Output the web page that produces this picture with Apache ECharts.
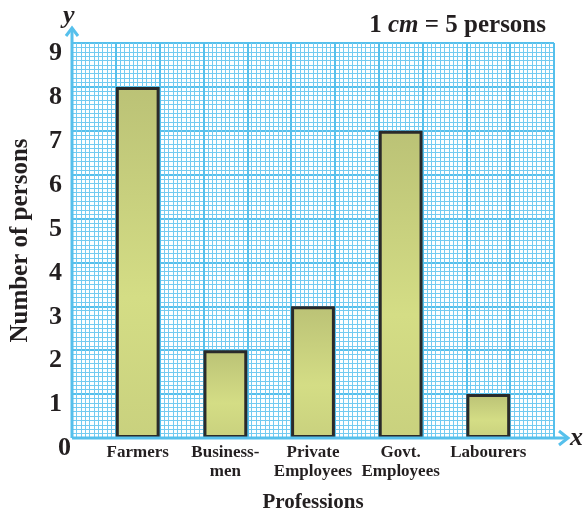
<!DOCTYPE html>
<html>
<head>
<meta charset="utf-8">
<script src="https://cdn.jsdelivr.net/npm/echarts@6/dist/echarts.min.js"></script>
<style>
  html, body { margin: 0; padding: 0; background: #fff; }
  #chart { width: 586px; height: 513px; }
</style>
</head>
<body>
<div id="chart"></div>
<script>
// Professions surveyed and the number of persons in each (1 cm = 5 persons)
const professions = ['Farmers', 'Business-\nmen', 'Private\nEmployees', 'Govt.\nEmployees', 'Labourers'];
const persons = [8, 2, 3, 7, 1];
const yTicks = [0, 1, 2, 3, 4, 5, 6, 7, 8, 9];
const paperColumns = 11;

const SERIF = '"Liberation Serif", "DejaVu Serif", serif';
const INK = '#231f20';
const CYAN = '#56c0ec';
const CYAN_MINOR = '#74cbf1';

// Plot frame of the graph paper
const L = 72, T = 43, W = 482, H = 395;
const cell = W / paperColumns;

const chart = echarts.init(document.getElementById('chart'));

chart.setOption({
  animation: false,
  backgroundColor: '#ffffff',
  title: {
    text: '{b|1 }{i|cm}{b| = 5 persons}',
    right: 35,
    top: 8,
    textStyle: {
      rich: {
        b: { fontFamily: SERIF, fontWeight: 'bold', fontSize: 25, color: INK },
        i: { fontFamily: SERIF, fontWeight: 'bold', fontStyle: 'italic', fontSize: 25, color: INK }
      }
    }
  },
  grid: [
    // graph paper
    { left: L, top: T, width: W, height: H, containLabel: false, outerBoundsMode: 'none' },
    // bars sit on every other paper column
    { left: L + cell / 2, top: T, width: cell * (paperColumns - 1), height: H, containLabel: false, outerBoundsMode: 'none' }
  ],
  xAxis: [
    {
      gridIndex: 0, type: 'value', min: 0, max: paperColumns, interval: 1,
      name: 'x', nameLocation: 'end', nameGap: 16,
      nameTextStyle: { fontFamily: SERIF, fontStyle: 'italic', fontWeight: 'bold', fontSize: 26, color: INK, verticalAlign: 'middle', padding: [0, 0, 4, 0] },
      axisLine: { show: false }, axisTick: { show: false }, axisLabel: { show: false },
      splitLine: { show: true, lineStyle: { color: CYAN, width: 2 } },
      minorTick: { show: false, splitNumber: 10 },
      minorSplitLine: { show: true, lineStyle: { color: CYAN_MINOR, width: 1 } }
    },
    {
      gridIndex: 1, type: 'category', data: professions,
      name: 'Professions', nameLocation: 'middle', nameGap: 54, nameMoveOverlap: false,
      nameTextStyle: { fontFamily: SERIF, fontWeight: 'bold', fontSize: 21, color: INK },
      axisLine: { show: false }, axisTick: { show: false },
      axisLabel: { margin: 5, fontFamily: SERIF, fontWeight: 'bold', fontSize: 17, lineHeight: 19, color: INK, interval: 0 },
      splitLine: { show: false }
    }
  ],
  yAxis: [
    {
      gridIndex: 0, type: 'value', min: 0, max: yTicks[yTicks.length - 1], interval: 1,
      name: 'y', nameLocation: 'end', nameGap: 14,
      nameTextStyle: { fontFamily: SERIF, fontStyle: 'italic', fontWeight: 'bold', fontSize: 26, color: INK, align: 'left', padding: [0, 0, 0, -9] },
      axisLine: { show: false }, axisTick: { show: false },
      axisLabel: {
        margin: 1,
        formatter: v => (v === 0 ? '{z|0}' : '{n|' + v + '}'),
        rich: {
          n: { fontFamily: SERIF, fontWeight: 'bold', fontSize: 26, color: INK, padding: [21, 9, 0, 0] },
          z: { fontFamily: SERIF, fontWeight: 'bold', fontSize: 26, color: INK, padding: [21, 0, 0, 0] }
        }
      },
      splitLine: { show: true, lineStyle: { color: CYAN, width: 2 } },
      minorTick: { show: false, splitNumber: 10 },
      minorSplitLine: { show: true, lineStyle: { color: CYAN_MINOR, width: 1 } }
    },
    {
      gridIndex: 1, type: 'value', min: 0, max: yTicks[yTicks.length - 1], interval: 1,
      name: 'Number of persons', nameLocation: 'middle', nameGap: 61, nameMoveOverlap: false,
      nameTextStyle: { fontFamily: SERIF, fontWeight: 'bold', fontSize: 25, color: INK },
      axisLine: { show: false }, axisTick: { show: false }, axisLabel: { show: false },
      splitLine: { show: false }
    }
  ],
  series: [
    {
      type: 'bar',
      xAxisIndex: 1, yAxisIndex: 1,
      data: persons,
      barWidth: cell,
      itemStyle: {
        color: {
          type: 'linear', x: 0, y: 0, x2: 0, y2: 1,
          colorStops: [
            { offset: 0, color: '#bbc276' },
            { offset: 0.6, color: '#d4dd85' },
            { offset: 1, color: '#c9d17e' }
          ]
        },
        borderColor: '#2a2a2a',
        borderWidth: 3
      }
    }
  ],
  graphic: [
    // y axis with open arrow head
    { type: 'line', shape: { x1: L, y1: T + H, x2: L, y2: T - 15 }, style: { stroke: CYAN, lineWidth: 3 }, z: 10 },
    { type: 'polyline', shape: { points: [[L - 6, T - 7], [L, T - 15], [L + 6, T - 7]] }, style: { stroke: CYAN, lineWidth: 3, fill: null }, z: 10 },
    // x axis with open arrow head
    { type: 'line', shape: { x1: L, y1: T + H, x2: L + W + 14, y2: T + H }, style: { stroke: CYAN, lineWidth: 3 }, z: 10 },
    { type: 'polyline', shape: { points: [[L + W + 5, T + H - 7], [L + W + 14, T + H], [L + W + 5, T + H + 7]] }, style: { stroke: CYAN, lineWidth: 3, fill: null }, z: 10 }
  ]
});
</script>
</body>
</html>
